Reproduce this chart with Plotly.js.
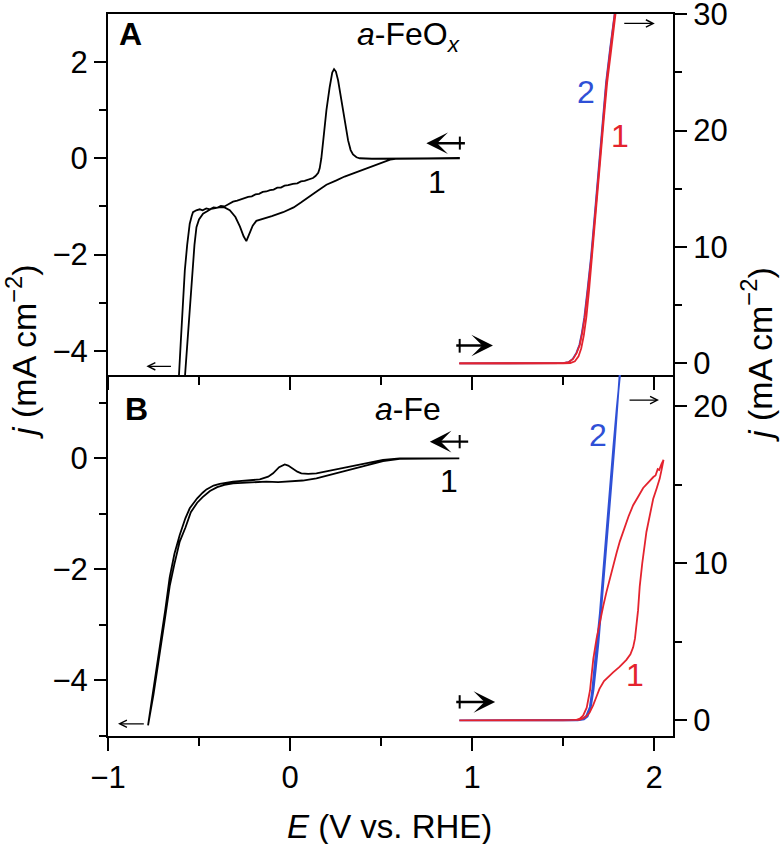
<!DOCTYPE html>
<html>
<head>
<meta charset="utf-8">
<script src="https://cdn.plot.ly/plotly-3.0.1.min.js"></script>
<style>html,body{margin:0;padding:0;background:#fff;}#chart{width:780px;height:844px;}</style>
</head>
<body>
<div id="chart"></div>
<script>
// ---------- Panel A (a-FeOx): CV at left axis ----------
const A_cv_E = [0.933,0.80,0.70,0.62,0.58,0.55,0.50,0.45,0.40,0.35,0.30,0.255,0.20,0.15,0.108,0.06,0.02,-0.038,-0.10,-0.15,-0.185,-0.205,-0.225,-0.240,-0.255,-0.275,-0.300,-0.331,-0.36,-0.39,-0.432,-0.478,-0.50,-0.514,-0.525,-0.536,-0.55,-0.565,-0.579,-0.59,
  -0.625,-0.610,-0.60,-0.59,-0.578,-0.565,-0.551,-0.54,-0.533,-0.515,-0.496,-0.48,-0.46,-0.44,-0.42,-0.40,-0.38,-0.36,-0.34,-0.313,-0.29,-0.27,-0.25,-0.23,-0.21,-0.19,-0.17,-0.15,-0.13,-0.11,-0.09,-0.07,-0.05,-0.03,-0.01,0.016,0.04,0.06,0.08,0.10,0.126,0.14,0.155,0.163,0.172,0.182,0.200,0.218,0.232,0.242,0.252,0.264,0.278,0.291,0.305,0.319,0.333,0.346,0.365,0.383,0.45,0.55,0.65,0.933];
const A_cv_j = [0.0,0.0,0.0,0.0,-0.01,-0.03,-0.10,-0.17,-0.25,-0.32,-0.38,-0.46,-0.55,-0.68,-0.80,-0.92,-1.02,-1.12,-1.20,-1.25,-1.30,-1.40,-1.58,-1.72,-1.62,-1.42,-1.22,-1.08,-1.02,-1.02,-1.05,-1.15,-1.27,-1.43,-1.80,-2.33,-3.0,-3.8,-4.5,-5.2,
  -5.2,-4.5,-3.8,-3.0,-2.33,-1.8,-1.36,-1.20,-1.12,-1.08,-1.06,-1.08,-1.04,-1.06,-1.02,-1.03,-0.99,-1.00,-0.95,-0.90,-0.88,-0.85,-0.83,-0.80,-0.79,-0.75,-0.74,-0.70,-0.69,-0.66,-0.65,-0.61,-0.61,-0.57,-0.56,-0.53,-0.52,-0.48,-0.47,-0.44,-0.41,-0.37,-0.30,-0.21,0.0,0.35,1.0,1.48,1.78,1.85,1.80,1.62,1.30,1.0,0.65,0.37,0.17,0.08,0.02,0.0,-0.01,-0.01,0.0,0.0];

// ---------- Panel A: OER at right axis ----------
const A_c2_E = [0.93,1.2,1.45,1.50,1.53,1.553,1.573,1.590,1.603,1.617,1.634,1.654,1.678,1.700,1.718,1.736,1.758,1.782,1.80];
const A_c2_j = [0.0,0.0,0.0,0.02,0.1,0.38,0.9,1.6,2.6,3.97,6.3,9.2,13.5,17.6,21.0,24.1,27.0,30.0,32.0];
const A_c1f_E = [0.93,1.2,1.45,1.50,1.53,1.555,1.575,1.592,1.605,1.619,1.636,1.656,1.680,1.702,1.720,1.738,1.760,1.784,1.80];
const A_c1f_j = [0.0,0.0,0.0,0.02,0.1,0.38,0.9,1.6,2.6,3.97,6.3,9.2,13.5,17.6,21.0,24.1,27.0,30.0,32.0];
const A_c1r_E = [1.80,1.788,1.765,1.742,1.724,1.706,1.684,1.662,1.643,1.628,1.614,1.600,1.585,1.565,1.54,1.50,0.93];
const A_c1r_j = [32.0,30.0,27.0,24.1,21.0,17.6,13.5,9.2,6.3,3.97,2.4,1.3,0.6,0.18,0.03,0.0,0.0];

// ---------- Panel B (a-Fe): CV at left axis ----------
const B_cv_E = [0.93,0.70,0.603,0.511,0.42,0.328,0.236,0.145,0.07,0.0,-0.065,-0.130,-0.20,-0.26,-0.313,-0.36,-0.40,-0.44,-0.48,-0.51,-0.545,-0.575,-0.606,-0.635,-0.661,-0.69,-0.716,-0.75,-0.78,
  -0.745,-0.716,-0.685,-0.661,-0.635,-0.606,-0.575,-0.551,-0.53,-0.51,-0.48,-0.459,-0.42,-0.386,-0.313,-0.24,-0.166,-0.12,-0.093,-0.06,-0.04,-0.029,-0.01,0.016,0.04,0.062,0.10,0.145,0.19,0.236,0.33,0.42,0.511,0.603,0.93];
const B_cv_j = [0.0,0.0,-0.01,-0.05,-0.13,-0.21,-0.29,-0.36,-0.40,-0.42,-0.43,-0.42,-0.43,-0.44,-0.45,-0.48,-0.52,-0.59,-0.70,-0.80,-0.97,-1.25,-1.50,-1.90,-2.30,-2.95,-3.55,-4.25,-4.81,
  -4.05,-3.45,-2.72,-2.14,-1.72,-1.38,-1.08,-0.90,-0.80,-0.72,-0.62,-0.56,-0.49,-0.46,-0.42,-0.40,-0.38,-0.33,-0.27,-0.16,-0.12,-0.11,-0.13,-0.19,-0.24,-0.27,-0.28,-0.27,-0.24,-0.20,-0.14,-0.09,-0.03,0.0,0.0];

// ---------- Panel B: OER at right axis ----------
const B_c2_E = [0.93,1.55,1.59,1.61,1.628,1.647,1.66,1.674,1.688,1.702,1.72,1.738,1.757,1.776,1.795,1.812,1.83,
  1.823,1.80,1.782,1.764,1.745,1.727,1.709,1.695,1.68,1.667,1.652,1.635,1.615,1.58,0.93];
const B_c2_j = [0.0,0.0,0.02,0.1,0.3,0.85,1.9,3.6,5.2,6.8,9.4,12.1,14.8,17.4,19.9,21.7,24.0,
  24.0,19.9,17.4,14.8,12.1,9.4,6.8,5.0,3.3,1.9,0.8,0.25,0.06,0.0,0.0];
const B_c1_E = [0.93,1.3,1.55,1.59,1.61,1.628,1.646,1.665,1.685,1.70,1.725,1.75,1.775,1.81,1.848,1.87,1.885,1.895,1.903,1.912,1.921,1.935,1.958,1.98,1.995,2.015,2.031,2.042,2.052,
  2.04,2.028,2.02,2.008,1.996,1.98,1.965,1.94,1.91,1.885,1.86,1.831,1.812,1.795,1.776,1.757,1.739,1.721,1.70,1.684,1.666,1.648,1.63,1.61,1.592,1.57,1.50,0.93];
const B_c1_j = [0.0,0.0,0.0,0.03,0.12,0.25,0.5,0.95,1.55,2.0,2.5,2.8,3.05,3.4,3.85,4.2,4.65,5.2,5.9,7.0,8.5,10.0,12.0,13.3,14.1,14.8,15.4,16.0,16.6,
  16.3,15.95,16.0,15.6,15.5,15.3,15.1,14.8,14.2,13.7,13.0,12.1,11.4,10.7,9.9,9.1,8.2,7.3,6.2,5.2,3.9,1.9,0.8,0.3,0.1,0.02,0.0,0.0];

// ---------- axis ranges ----------
const E_range = [-1, 2.104];
const A_left_range = [-4.5, 2.995];
const A_right_range = [-1, 30.01];
const B_left_range = [-5, 1.5];
const B_right_range = [-1, 22];

const RED = '#e4232e', BLUE = '#2f50d6', BLK = '#000000';
const FONT = 'Liberation Sans, Arial, Helvetica, sans-serif';
const TICKSIZE = 31;

function line(x, y, xa, ya, color) {
  return {x: x, y: y, xaxis: xa, yaxis: ya, type: 'scatter', mode: 'lines',
          line: {color: color, width: 1.8}, hoverinfo: 'skip', showlegend: false};
}
const data = [
  line(A_cv_E, A_cv_j, 'x', 'y', BLK),
  line(A_c2_E, A_c2_j, 'x', 'y2', BLUE),
  line(A_c1f_E, A_c1f_j, 'x', 'y2', RED),
  line(A_c1r_E, A_c1r_j, 'x', 'y2', RED),
  line(B_cv_E, B_cv_j, 'x2', 'y3', BLK),
  line(B_c2_E, B_c2_j, 'x2', 'y4', BLUE),
  line(B_c1_E, B_c1_j, 'x2', 'y4', RED)
];

function yax(range, dtick, mdtick, extra) {
  return Object.assign({
    range: range, dtick: dtick, tick0: 0, showline: true, linewidth: 2, linecolor: '#000',
    ticks: 'outside', ticklen: 12, tickwidth: 2, tickcolor: '#000',
    minor: {ticks: 'outside', ticklen: 7, tickwidth: 2, tickcolor: '#000', dtick: mdtick, tick0: 0},
    showgrid: false, zeroline: false, tickfont: {size: TICKSIZE, color: '#000', family: FONT},
    ticklabelstandoff: 0, ticklabeloverflow: 'allow', fixedrange: true
  }, extra);
}
function xax(extra) {
  return Object.assign({
    range: E_range, dtick: 1, tick0: 0, showline: true, linewidth: 2, linecolor: '#000',
    ticks: 'outside', ticklen: 13, tickwidth: 2, tickcolor: '#000',
    minor: {ticks: 'outside', ticklen: 8, tickwidth: 2, tickcolor: '#000', dtick: 0.5, tick0: 0},
    showgrid: false, zeroline: false, tickfont: {size: TICKSIZE, color: '#000', family: FONT},
    ticklabeloverflow: 'allow', fixedrange: true
  }, extra);
}

function arrow(xr, yr, x0, y0, x1, y1, head, size, width) {
  return {xref: xr, yref: yr, axref: xr, ayref: yr, ax: x0, ay: y0, x: x1, y: y1, text: '',
          showarrow: true, arrowhead: head, arrowsize: size, arrowwidth: width, arrowcolor: '#000',
          standoff: 0, startstandoff: 0};
}
function label(xr, yr, x, y, txt, color, size, xanchor) {
  return {xref: xr, yref: yr, x: x, y: y, text: txt, showarrow: false,
          font: {size: size || 32, color: color || '#000', family: FONT},
          xanchor: xanchor || 'center', yanchor: 'middle'};
}

const annotations = [
  // axis titles
  {xref: 'paper', yref: 'paper', x: -0.152, y: 0.532, text: '<i>j</i> (mA cm<sup>−2</sup>)', textangle: -90,
   showarrow: false, font: {size: 34, color: '#000', family: FONT}, xanchor: 'center', yanchor: 'middle'},
  {xref: 'paper', yref: 'paper', x: 1.149, y: 0.528, text: '<i>j</i> (mA cm<sup>−2</sup>)', textangle: -90,
   showarrow: false, font: {size: 34, color: '#000', family: FONT}, xanchor: 'center', yanchor: 'middle'},
  {xref: 'paper', yref: 'paper', x: 0.499, y: -0.1247, text: '<i>E</i> (V vs. RHE)',
   showarrow: false, font: {size: 33, color: '#000', family: FONT}, xanchor: 'center', yanchor: 'middle'},
  // panel labels
  label('x', 'y', -0.952, 2.58, '<b>A</b>', '#000', 32, 'left'),
  label('x2', 'y3', -0.919, 0.89, '<b>B</b>', '#000', 32, 'left'),
  label('x', 'y', 0.356, 2.52, '<i>a</i>-FeO<sub><i>x</i></sub>', '#000', 32, 'left'),
  label('x2', 'y3', 0.454, 0.89, '<i>a</i>-Fe', '#000', 32, 'left'),
  // cycle labels
  label('x', 'y', 0.806, -0.50, '1', '#000', 32),
  label('x2', 'y3', 0.872, -0.41, '1', '#000', 32),
  label('x', 'y2', 1.624, 23.3, '2', BLUE, 32),
  label('x', 'y2', 1.811, 19.5, '1', RED, 32),
  label('x2', 'y4', 1.690, 18.2, '2', BLUE, 32),
  label('x2', 'y4', 1.894, 2.87, '1', RED, 32),
  // scan direction arrows (bold)
  arrow('x', 'y', 0.969, 0.312, 0.749, 0.312, 3, 1.5, 2.4),
  arrow('x2', 'y3', 0.987, 0.30, 0.768, 0.30, 3, 1.5, 2.4),
  arrow('x', 'y2', 0.905, 1.53, 1.115, 1.53, 3, 1.5, 2.4),
  arrow('x2', 'y4', 0.905, 1.17, 1.127, 1.17, 3, 1.5, 2.4),
  // axis indicator arrows (thin)
  arrow('x', 'y', -0.646, -4.32, -0.789, -4.32, 5, 1.2, 1.2),
  arrow('x', 'y2', 1.828, 29.2, 2.004, 29.2, 5, 1.2, 1.2),
  arrow('x2', 'y4', 1.857, 20.4, 2.027, 20.4, 5, 1.2, 1.2),
  arrow('x2', 'y3', -0.795, -4.78, -0.945, -4.78, 5, 1.2, 1.2)
];

function bar(xr, yr, x, y0, y1) {
  return {type: 'line', xref: xr, yref: yr, x0: x, x1: x, y0: y0, y1: y1, line: {color: '#000', width: 2}};
}
const shapes = [
  bar('x', 'y', 0.933, 0.45, 0.18),
  bar('x2', 'y3', 0.932, 0.42, 0.18),
  bar('x', 'y2', 0.932, 2.1, 0.92),
  bar('x2', 'y4', 0.932, 1.6, 0.75)
];

const layout = {
  width: 780, height: 844,
  margin: {l: 108, r: 107, t: 14, b: 108, pad: 0},
  paper_bgcolor: '#fff', plot_bgcolor: 'rgba(0,0,0,0)',
  font: {family: FONT, color: '#000'},
  showlegend: false,
  xaxis: xax({domain: [0, 1], anchor: 'y', showticklabels: false, mirror: true}),
  xaxis2: xax({domain: [0, 1], anchor: 'y3', matches: 'x', showticklabels: true}),
  yaxis: yax(A_left_range, 2, 1, {domain: [0.5, 1], anchor: 'x'}),
  yaxis2: yax(A_right_range, 10, 5, {overlaying: 'y', side: 'right', anchor: 'x'}),
  yaxis3: yax(B_left_range, 2, 1, {domain: [0, 0.5], anchor: 'x2'}),
  yaxis4: yax(B_right_range, 10, 5, {overlaying: 'y3', side: 'right', anchor: 'x2'}),
  annotations: annotations,
  shapes: shapes
};

Plotly.newPlot('chart', data, layout, {displayModeBar: false, staticPlot: true});
</script>
</body>
</html>
